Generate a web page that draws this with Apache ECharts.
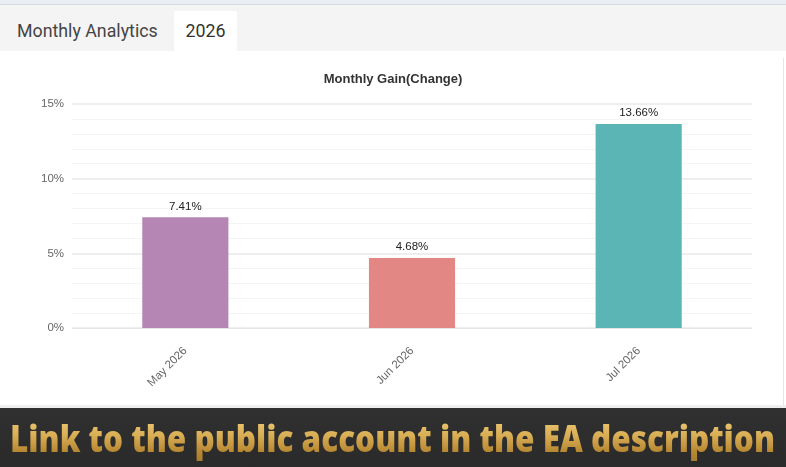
<!DOCTYPE html>
<html><head><meta charset="utf-8">
<script src="https://cdn.jsdelivr.net/npm/echarts@6/dist/echarts.min.js"></script>
<style>
html,body{margin:0;padding:0;width:786px;height:467px;overflow:hidden;background:#fff;font-family:Roboto,"Open Sans",Arial,sans-serif;}
#topstrip{position:absolute;left:0;top:0;width:786px;height:4px;background:#e9eef5;border-bottom:1px solid #d6dbe2;}
#tabs{position:absolute;left:0;top:5px;width:786px;height:46px;background:#f4f4f4;}
#tab1{position:absolute;left:17px;top:15px;font-size:17.8px;color:#444;}
#tab2{position:absolute;left:174px;top:6px;width:63px;height:40px;background:#fff;font-size:17.8px;color:#333;text-align:center;line-height:40px;}
#rborder{position:absolute;left:783px;top:58px;width:1px;height:347px;background:#e6e6e6;}
#sep{position:absolute;left:0;top:405px;width:786px;height:3px;background:#eeeeee;}
#banner{position:absolute;left:0;top:408px;width:786px;height:59px;background:linear-gradient(#303030 0%,#2a2a2a 100%);overflow:hidden;}
#btext{position:absolute;left:10px;top:5px;white-space:nowrap;font-family:"Open Sans",Lato,sans-serif;font-weight:800;font-size:37px;line-height:50px;
 background:linear-gradient(180deg,#f3d27f 0%,#d9ae55 45%,#b98a34 75%,#a57a2c 100%);-webkit-background-clip:text;background-clip:text;color:transparent;transform-origin:0 50%;}
#chart{position:absolute;left:0;top:0;width:786px;height:467px;}
</style></head>
<body>
<div id="topstrip"></div>
<div id="tabs"><div id="tab1">Monthly Analytics</div><div id="tab2">2026</div></div>
<div id="rborder"></div>
<div id="sep"></div>
<div id="banner"><div id="btext">Link to the public account in the EA description</div></div>
<div id="chart"></div>
<script>
const categories = ['May 2026', 'Jun 2026', 'Jul 2026'];
const gains = [7.41, 4.68, 13.66];
const barColors = ['#b586b3', '#e38785', '#5bb5b5'];
const chartTitle = 'Monthly Gain(Change)';

// fit banner text width
const bt = document.getElementById('btext');
const w = bt.getBoundingClientRect().width;
bt.style.transform = 'scaleX(' + (765 / w) + ')';

const chart = echarts.init(document.getElementById('chart'), null, {renderer: 'canvas'});
chart.setOption({
  backgroundColor: 'transparent',
  animation: false,
  title: {
    text: chartTitle, left: 'center', top: 68,
    textStyle: {fontSize: 13, fontWeight: 'bold', color: '#333', fontFamily: 'Arial, Liberation Sans, sans-serif'}
  },
  grid: {left: 72, right: 34, top: 104, bottom: 139, containLabel: false},
  xAxis: {
    type: 'category', data: categories,
    axisLine: {show: true, lineStyle: {color: '#e6e6e6'}},
    axisTick: {show: false},
    axisLabel: {rotate: 45, margin: 21, color: '#666', fontSize: 11.5, fontFamily: 'Arial, Liberation Sans, sans-serif'}
  },
  yAxis: {
    type: 'value', min: 0, max: 15, interval: 5,
    axisLine: {show: false}, axisTick: {show: false},
    axisLabel: {formatter: '{value}%', color: '#666', fontSize: 11.5, margin: 8, fontFamily: 'Arial, Liberation Sans, sans-serif'},
    splitLine: {show: true, lineStyle: {color: '#e8e8e8', width: 1.5}},
    minorTick: {show: false, splitNumber: 5},
    minorSplitLine: {show: true, lineStyle: {color: '#f4f4f4', width: 1}}
  },
  series: [{
    type: 'bar',
    data: gains.map((v, i) => ({value: v, itemStyle: {color: barColors[i]}})),
    barWidth: '38%',
    label: {show: true, position: 'top', distance: 5, formatter: p => p.value.toFixed(2) + '%', color: '#222', fontSize: 11.5, fontFamily: 'Arial, Liberation Sans, sans-serif'}
  }]
});
</script>
</body></html>
